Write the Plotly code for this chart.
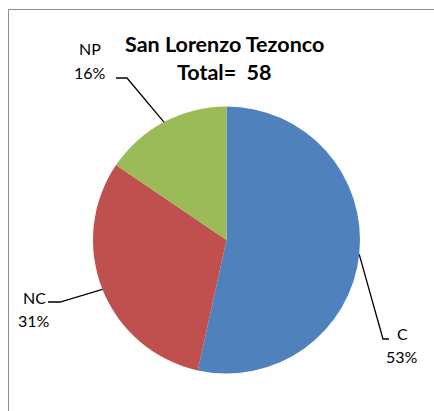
import math
import plotly.graph_objects as go

labels = ["C", "NC", "NP"]
values = [31, 18, 9]
colors = ["#4F81BD", "#C0504D", "#9BBB59"]
title_lines = ["San Lorenzo Tezonco", "Total=  58"]

W, H = 434, 411
cx, cy, r = 226.5, 240, 133.5  # pie centre / radius in pixels (from top-left)

def px(x):
    return x / W

def py(y):
    return 1 - y / H

fig = go.Figure(go.Pie(
    labels=labels, values=values, sort=False, direction="clockwise", rotation=0,
    marker=dict(colors=colors, line=dict(width=0)),
    textinfo="none", hoverinfo="label+percent",
    domain=dict(x=[px(cx - r), px(cx + r)], y=[py(cy + r), py(cy - r)]),
    showlegend=False,
))

layout_spec = {
    "C": dict(elbow=(383, 339), end=(389, 339), tx=402, ty=333),
    "NC": dict(elbow=(60, 302), end=(48, 302), tx=34, ty=297),
    "NP": dict(elbow=(127, 78), end=(116, 78), tx=90, ty=49),
}

total = sum(values)
cum = 0
shapes = []
annotations = []
for lab, v in zip(labels, values):
    mid = (cum + v / 2) / total * 2 * math.pi
    cum += v
    ax = cx + r * math.sin(mid)
    ay = cy - r * math.cos(mid)
    spec = layout_spec[lab]
    ex, ey = spec["elbow"]
    fx, fy = spec["end"]
    shapes.append(dict(type="path", xref="paper", yref="paper",
                       path=f"M {px(ax)},{py(ay)} L {px(ex)},{py(ey)} L {px(fx)},{py(fy)}",
                       line=dict(color="black", width=1.3)))
    pct = round(v / total * 100)
    annotations.append(dict(xref="paper", yref="paper", x=px(spec["tx"]), y=py(spec["ty"]),
                            text=lab, showarrow=False, xanchor="center", yanchor="middle",
                            font=dict(size=16, color="#000000", family="Lato")))
    annotations.append(dict(xref="paper", yref="paper", x=px(spec["tx"]), y=py(spec["ty"] + 23),
                            text=f"{pct}%", showarrow=False, xanchor="center", yanchor="middle",
                            font=dict(size=16, color="#000000", family="Lato")))

annotations.append(dict(xref="paper", yref="paper", x=px(224), y=py(44), text=f"<b>{title_lines[0]}</b>",
                        showarrow=False, xanchor="center", yanchor="middle",
                        font=dict(size=21.5, color="#000000", family="Lato")))
annotations.append(dict(xref="paper", yref="paper", x=px(224), y=py(72), text=f"<b>{title_lines[1]}</b>",
                        showarrow=False, xanchor="center", yanchor="middle",
                        font=dict(size=21.5, color="#000000", family="Lato")))

shapes.append(dict(type="rect", xref="paper", yref="paper", x0=px(8.5), y0=-0.05, x1=1.05, y1=py(9.5),
                   line=dict(color="#8C8C8C", width=1), fillcolor="rgba(0,0,0,0)", layer="below"))

fig.update_layout(width=W, height=H, margin=dict(l=0, r=0, t=0, b=0),
                  paper_bgcolor="white", plot_bgcolor="white",
                  shapes=shapes, annotations=annotations)
fig.write_html("out.html", config={"displayModeBar": False},
               post_script="document.body.style.margin='0';document.body.style.padding='0';")
